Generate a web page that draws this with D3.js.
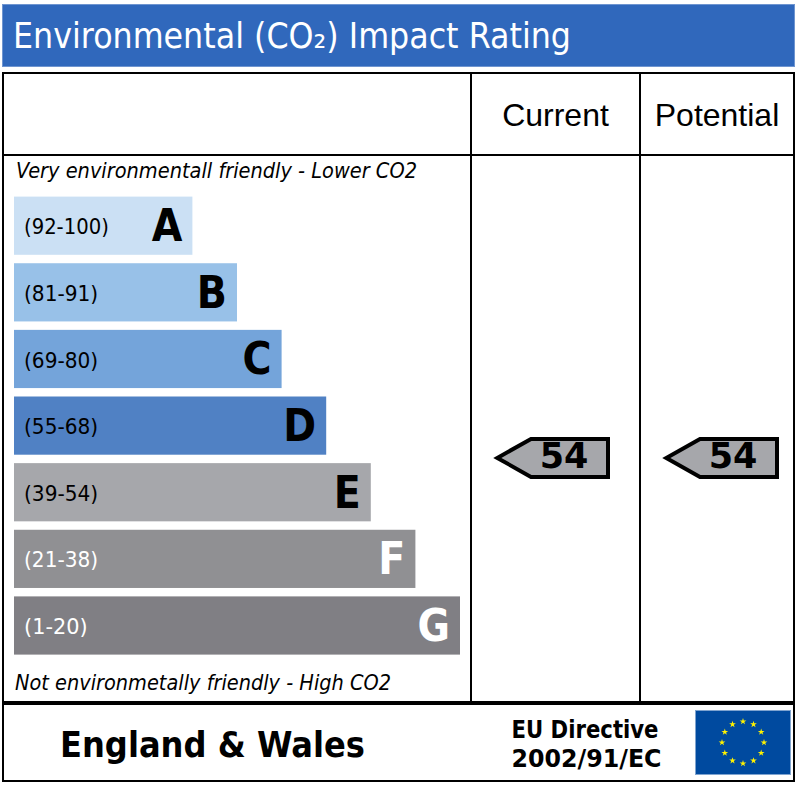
<!DOCTYPE html>
<html><head><meta charset="utf-8">
<script src="https://cdn.jsdelivr.net/npm/d3@7"></script>
<style>html,body{margin:0;padding:0;background:#fff}svg{display:block}text{font-family:"DejaVu Sans",sans-serif}</style>
</head><body><svg id="c" width="799" height="786"></svg>
<script>
const bands = ["A","B","C","D","E","F","G"];
const ranges = ["(92-100)","(81-91)","(69-80)","(55-68)","(39-54)","(21-38)","(1-20)"];
const barLengths = [40,50,60,70,80,90,100];
const bandEdges = [100,91,80,68,54,38,20,0];
const colours = ["#cbe0f4","#98c1e8","#74a4da","#5081c4","#a6a7ab","#909093","#807f84"];
const textColours = ["#000","#000","#000","#000","#000","#fff","#fff"];
const columns = ["Current","Potential"];
const ratings = [54,54];

const svg = d3.select("#c");
const x = d3.scaleLinear().domain([0,100]).range([14,460]);
const y = d3.scaleBand().domain(bands).range([196.6,654.6]).paddingInner(8.4/66.4).paddingOuter(0);
const step = y.step();
const gap = step-y.bandwidth();
const edgeY = bandEdges.map((d,i)=> i===0 ? y("A")-gap/2 : y(bands[i-1])+y.bandwidth()+gap/2);
const ratingY = d3.scaleLinear().domain(bandEdges).range(edgeY);
const colX = d3.scaleOrdinal().domain(columns).range([610,779]);

// title
svg.append("rect").attr("x",2.5).attr("y",4.5).attr("width",792).attr("height",62).attr("fill","#3068bc").attr("stroke","#6f95d0");
svg.append("text").attr("x",13).attr("y",48).attr("fill","#fff").attr("font-size",35)
  .attr("textLength",558).attr("lengthAdjust","spacingAndGlyphs").text("Environmental (CO\u2082) Impact Rating");

// frame
const line=(a,b,c,d,w)=>svg.append("line").attr("x1",a).attr("y1",b).attr("x2",c).attr("y2",d).attr("stroke","#000").attr("stroke-width",w);
svg.append("rect").attr("x",3).attr("y",73).attr("width",791).attr("height",708).attr("fill","none").attr("stroke","#000").attr("stroke-width",2);
line(3,155,794,155,2);
line(471,73,471,703,2);
line(640,73,640,703,2);
line(3,703,794,703,4);

// headers
svg.selectAll(".hdr").data(columns).join("text").attr("class","hdr")
  .attr("x",(d,i)=>[555.5,717][i]).attr("y",126).attr("text-anchor","middle")
  .style("font-family","Liberation Sans").attr("font-size",32).text(d=>d);

// notes
svg.append("text").attr("x",16).attr("y",178).attr("font-size",21).attr("font-style","italic")
  .attr("textLength",401).attr("lengthAdjust","spacingAndGlyphs").text("Very environmentall friendly - Lower CO2");
svg.append("text").attr("x",15).attr("y",690).attr("font-size",21).attr("font-style","italic")
  .attr("textLength",376).attr("lengthAdjust","spacingAndGlyphs").text("Not environmetally friendly - High CO2");

// bars
const g = svg.selectAll(".bar").data(bands).join("g").attr("class","bar");
g.append("rect").attr("x",x(0)).attr("y",d=>y(d)).attr("height",y.bandwidth())
  .attr("width",(d,i)=>x(barLengths[i])-x(0)).attr("fill",(d,i)=>colours[i]);
g.append("text").attr("x",24).attr("y",d=>y(d)+y.bandwidth()/2+8.6).attr("font-size",21)
  .attr("fill",(d,i)=>textColours[i]).attr("textLength",(d,i)=>ranges[i].length*10.6).attr("lengthAdjust","spacingAndGlyphs")
  .text((d,i)=>ranges[i]);
g.append("text").attr("x",(d,i)=>x(barLengths[i])-10).attr("y",d=>y(d)+y.bandwidth()/2+15.5).attr("text-anchor","end")
  .attr("font-size",45).attr("font-weight","bold").attr("fill",(d,i)=>textColours[i]).text(d=>d)
  .each(function(){const n=this.getComputedTextLength();d3.select(this).attr("textLength",n*0.88).attr("lengthAdjust","spacingAndGlyphs");});

// arrows
const a = svg.selectAll(".arrow").data(columns).join("g").attr("class","arrow")
  .attr("transform",(d,i)=>`translate(${colX(d)},${ratingY(ratings[i])-1})`);
a.append("path").attr("d",d3.line()([[-2,-19],[-79,-19],[-112.7,0],[-79,19],[-2,19]])+"Z")
  .attr("fill","#a6a7ab").attr("stroke","#000").attr("stroke-width",4).attr("stroke-linejoin","miter");
a.append("text").attr("x",-46).attr("y",10.5).attr("text-anchor","middle").attr("font-size",35).attr("font-weight","bold")
  .text((d,i)=>ratings[i]);

// footer
svg.append("text").attr("x",60).attr("y",757).attr("font-size",35).attr("font-weight","bold")
  .attr("textLength",305).attr("lengthAdjust","spacingAndGlyphs").text("England & Wales");
svg.append("text").attr("x",511.5).attr("y",738).attr("font-size",24).attr("font-weight","bold")
  .attr("textLength",147).attr("lengthAdjust","spacingAndGlyphs").text("EU Directive");
svg.append("text").attr("x",511.5).attr("y",767).attr("font-size",24).attr("font-weight","bold")
  .attr("textLength",150).attr("lengthAdjust","spacingAndGlyphs").text("2002/91/EC");

// flag
svg.append("rect").attr("x",695.5).attr("y",710.5).attr("width",95).attr("height",64).attr("fill","#004a9f").attr("stroke","#7fa4d0");
const stars = d3.range(12);
svg.selectAll(".star").data(stars).join("path").attr("class","star")
  .attr("d",d3.symbol(d3.symbolStar,14))
  .attr("transform",d=>{const t=d/12*2*Math.PI;return `translate(${743+21*Math.sin(t)},${742.5-21*Math.cos(t)})`})
  .attr("fill","#fff200");
</script></body></html>
